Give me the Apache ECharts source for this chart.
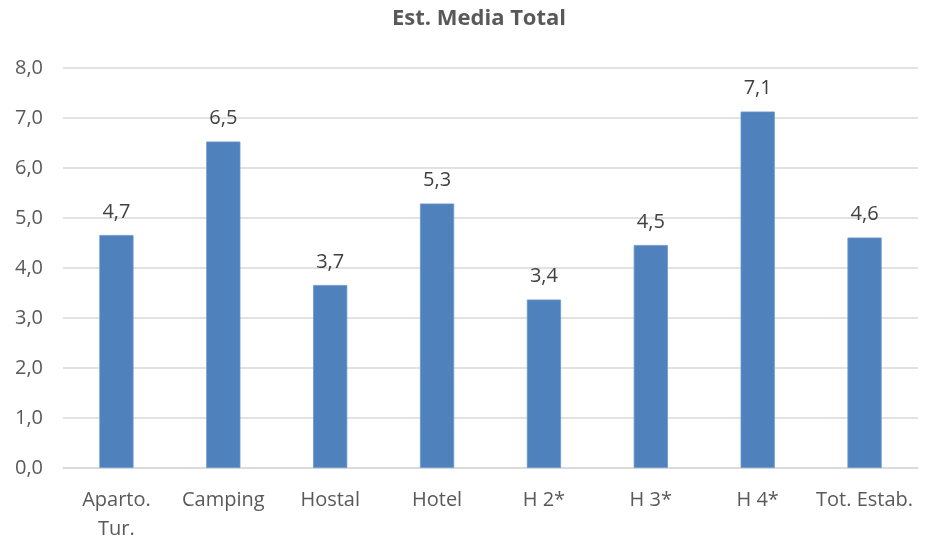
<!DOCTYPE html>
<html>
<head>
<meta charset="utf-8">
<script src="https://cdn.jsdelivr.net/npm/echarts@6/dist/echarts.min.js"></script>
<style>
  html, body { margin: 0; padding: 0; background: #fff; }
  #chart { width: 925px; height: 540px; }
</style>
</head>
<body>
<div id="chart"></div>
<script>
// Average stay per establishment type
const chartTitle = 'Est. Media Total';
const categories = ['Aparto.\nTur.', 'Camping', 'Hostal', 'Hotel', 'H 2*', 'H 3*', 'H 4*', 'Tot. Estab.'];
const values = [4.66, 6.53, 3.66, 5.29, 3.37, 4.46, 7.13, 4.61];
const yMin = 0, yMax = 8, yStep = 1;

const fmt = v => v.toFixed(1).replace('.', ',');
const font = '"Open Sans", sans-serif';

const chart = echarts.init(document.getElementById('chart'), null, { renderer: 'canvas' });
chart.setOption({
  animation: false,
  backgroundColor: '#ffffff',
  title: {
    text: chartTitle,
    left: 474,
    textAlign: 'center',
    top: 3,
    textStyle: { fontFamily: font, fontSize: 22, fontWeight: 'bold', color: '#595959' }
  },
  grid: { left: 63, right: 7, top: 68, bottom: 72, containLabel: false, outerBoundsMode: 'none' },
  xAxis: {
    type: 'category',
    data: categories,
    axisLine: { lineStyle: { color: '#d9d9d9', width: 1.5 } },
    axisTick: { show: false },
    axisLabel: {
      fontFamily: font, fontSize: 20, color: '#595959',
      margin: 18, lineHeight: 29, interval: 0
    }
  },
  yAxis: {
    type: 'value',
    min: yMin, max: yMax, interval: yStep,
    axisLine: { show: false },
    axisTick: { show: false },
    splitLine: { lineStyle: { color: '#d9d9d9', width: 1.5 } },
    axisLabel: {
      fontFamily: font, fontSize: 20, color: '#595959', margin: 20,
      formatter: v => fmt(v)
    }
  },
  series: [{
    type: 'bar',
    data: values,
    barWidth: '32%',
    itemStyle: { color: '#4f81bd', borderColor: '#6d98cc', borderWidth: 0.8 },
    label: {
      show: true,
      position: 'top',
      distance: 13,
      fontFamily: font, fontSize: 20, color: '#404040',
      formatter: p => fmt(p.value)
    }
  }]
});
</script>
</body>
</html>
